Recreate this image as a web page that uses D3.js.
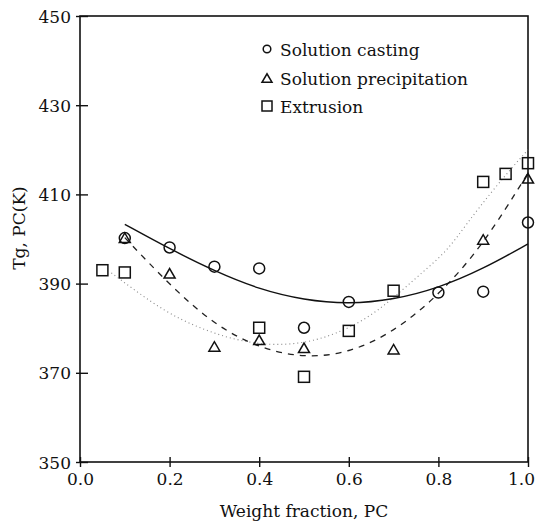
<!DOCTYPE html>
<html>
<head>
<meta charset="utf-8">
<script src="https://cdn.jsdelivr.net/npm/d3@7"></script>
<style>
  html, body { margin: 0; padding: 0; background: #fff; }
  svg { display: block; }
  svg text { font-family: "DejaVu Serif", serif; fill: #111; }
</style>
</head>
<body>
<svg id="chart" width="537" height="525"></svg>
<script>
// Measured Tg of the PC phase by preparation method
const castingX = [0.1, 0.2, 0.3, 0.4, 0.5, 0.6, 0.8, 0.9, 1.0];
const castingY = [400.2, 398.1, 393.8, 393.4, 380.1, 385.9, 388.0, 388.2, 403.7];

const precipX = [0.1, 0.2, 0.3, 0.4, 0.5, 0.7, 0.9, 1.0];
const precipY = [400.3, 392.3, 375.9, 377.4, 375.6, 375.3, 399.9, 413.6];

const extrusionX = [0.05, 0.1, 0.4, 0.5, 0.6, 0.7, 0.9, 0.95, 1.0];
const extrusionY = [393.0, 392.5, 380.1, 369.1, 379.4, 388.4, 412.8, 414.6, 417.0];

// Fitted trend curves (points along each curve)
const castingFitX = [0.1, 0.2, 0.3, 0.4, 0.5, 0.6, 0.7, 0.8, 0.9, 1.0];
const castingFitY = [403.3, 397.8, 392.8, 388.7, 386.3, 385.4, 386.4, 389.0, 393.3, 398.9];

const precipFitX = [0.1, 0.2, 0.3, 0.4, 0.5, 0.6, 0.7, 0.8, 0.9, 1.0];
const precipFitY = [400.3, 389.7, 380.7, 375.5, 373.3, 374.4, 379.1, 387.3, 398.6, 414.8];

const extrusionFitX = [0.07, 0.11, 0.19, 0.26, 0.335, 0.42, 0.5, 0.57, 0.65, 0.72, 0.77, 0.82, 0.86, 0.92, 0.98, 1.0];
const extrusionFitY = [392.4, 389.4, 383.7, 380.3, 377.6, 376.1, 376.6, 378.6, 382.6, 388.6, 393.0, 397.4, 403.0, 410.8, 417.8, 420.0];

const xTicks = [0.0, 0.2, 0.4, 0.6, 0.8, 1.0];
const yTicks = [350, 370, 390, 410, 430, 450];

const legendLabels = ["Solution casting", "Solution precipitation", "Extrusion"];

const svg = d3.select("#chart");
const m = { left: 80, right: 528, top: 16, bottom: 462 };

const x = d3.scaleLinear().domain([0, 1]).range([m.left, m.right]);
const y = d3.scaleLinear().domain([350, 450]).range([m.bottom, m.top]);

const FONT = 17;

// Bottom axis: labels + outer ticks, then inner ticks
const xAxisG = svg.append("g").attr("transform", `translate(0,${m.bottom})`)
  .call(d3.axisBottom(x).tickValues(xTicks).tickFormat(d3.format(".1f")).tickSize(5).tickPadding(6));
svg.append("g").attr("transform", `translate(0,${m.bottom})`)
  .call(d3.axisBottom(x).tickValues(xTicks).tickSize(-5).tickFormat(""));

const yAxisG = svg.append("g").attr("transform", `translate(${m.left},0)`)
  .call(d3.axisLeft(y).tickValues(yTicks).tickFormat(d3.format("d")).tickSize(4).tickPadding(5));
svg.append("g").attr("transform", `translate(${m.left},0)`)
  .call(d3.axisLeft(y).tickValues(yTicks).tickSize(-8).tickFormat(""));

svg.selectAll(".domain").remove();
svg.selectAll("g").attr("font-family", null).attr("font-size", null);
svg.selectAll(".tick line").attr("stroke", "#111").attr("stroke-width", 1.4);
svg.selectAll(".tick text").style("font-size", FONT + "px").attr("fill", "#111");
xAxisG.selectAll(".tick text").attr("dy", "0.71em");
// keep the last x label inside the canvas
xAxisG.selectAll(".tick text").filter(d => d === 1).attr("x", -7);
yAxisG.selectAll(".tick text").attr("dy", "0.36em");

// Plot frame
svg.append("rect")
  .attr("x", m.left).attr("y", m.top)
  .attr("width", m.right - m.left).attr("height", m.bottom - m.top)
  .attr("fill", "none").attr("stroke", "#111").attr("stroke-width", 1.6);

// Axis titles
svg.append("text")
  .attr("x", (m.left + m.right) / 2).attr("y", 517)
  .attr("text-anchor", "middle").style("font-size", FONT + "px")
  .text("Weight fraction, PC");

svg.append("text")
  .attr("transform", "translate(25,228) rotate(-90)")
  .attr("text-anchor", "middle").style("font-size", FONT + "px")
  .text("Tg, PC(K)");

// Trend curves
const line = d3.line().x(d => x(d[0])).y(d => y(d[1])).curve(d3.curveBasis);
const zip = (a, b) => a.map((v, i) => [v, b[i]]);

svg.append("path").datum(zip(extrusionFitX, extrusionFitY))
  .attr("d", line).attr("fill", "none")
  .attr("stroke", "#888").attr("stroke-width", 1.1).attr("stroke-dasharray", "1,3");

svg.append("path").datum(zip(precipFitX, precipFitY))
  .attr("d", line).attr("fill", "none")
  .attr("stroke", "#222").attr("stroke-width", 1.3).attr("stroke-dasharray", "6,6");

svg.append("path").datum(zip(castingFitX, castingFitY))
  .attr("d", line).attr("fill", "none")
  .attr("stroke", "#111").attr("stroke-width", 1.4);

// Marker shapes
function circle(g, cx, cy, r) {
  g.append("circle").attr("cx", cx).attr("cy", cy).attr("r", r)
    .attr("fill", "none").attr("stroke", "#111").attr("stroke-width", 1.5);
}
function square(g, cx, cy, s) {
  g.append("rect").attr("x", cx - s / 2).attr("y", cy - s / 2).attr("width", s).attr("height", s)
    .attr("fill", "none").attr("stroke", "#111").attr("stroke-width", 1.5);
}
function triangle(g, cx, cy, w, h) {
  g.append("path")
    .attr("d", `M${cx - w / 2},${cy + h / 2}L${cx + w / 2},${cy + h / 2}L${cx},${cy - h / 2}Z`)
    .attr("fill", "none").attr("stroke", "#111").attr("stroke-width", 1.5);
}

const marks = svg.append("g");
castingX.forEach((v, i) => circle(marks, x(v), y(castingY[i]), 5.5));
precipX.forEach((v, i) => triangle(marks, x(v), y(precipY[i]), 11, 9.5));
extrusionX.forEach((v, i) => square(marks, x(v), y(extrusionY[i]), 11));

// Legend
const lg = svg.append("g");
const legendRows = [49, 78, 106];
circle(lg, 267, legendRows[0], 3.8);
triangle(lg, 267, legendRows[1], 10, 8.5);
square(lg, 267, legendRows[2], 10);
legendLabels.forEach((t, i) => {
  lg.append("text").attr("x", 280).attr("y", legendRows[i] + 6.5)
    .style("font-size", FONT + "px").text(t);
});
</script>
</body>
</html>
